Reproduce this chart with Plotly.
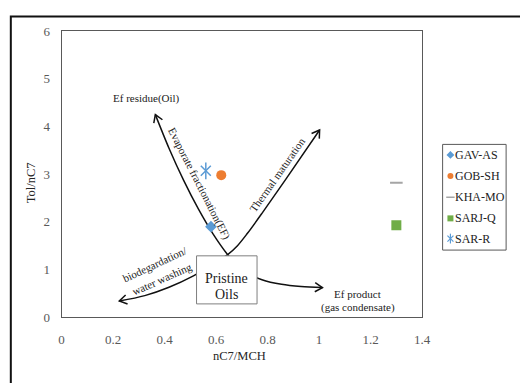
import math
import plotly.graph_objects as go

# ---- sample data -------------------------------------------------------
samples = ["GAV-AS", "GOB-SH", "KHA-MO", "SARJ-Q", "SAR-R"]
nc7_mch = [0.58, 0.62, 1.30, 1.30, 0.56]
tol_nc7 = [1.90, 2.98, 2.82, 1.93, 3.07]

# ---- hand-drawn guide curves (data units) ------------------------------
# evaporative fractionation: residue (upper left) -> product (lower right)
ef_curve_x = [0.364, 0.417, 0.474, 0.531, 0.588, 0.645, 0.683, 0.721,
              0.778, 0.854, 0.930, 1.013]
ef_curve_y = [4.248, 3.544, 2.869, 2.271, 1.750, 1.313, 1.085, 0.932,
              0.789, 0.692, 0.646, 0.624]
# biodegradation (lower left) -> thermal maturation (upper right)
thermal_x = [0.224, 0.323, 0.417, 0.512, 0.588, 0.645, 0.683, 0.721,
             0.778, 0.873, 1.002]
thermal_y = [0.342, 0.455, 0.630, 0.870, 1.109, 1.315, 1.502, 1.756,
             2.179, 2.913, 3.926]

# ---- page geometry (pixels) -------------------------------------------
W, H = 520, 383
PL, PR, PT, PB = 60, 429, 25, 323
X_MAX, Y_MAX = 1.4, 6.0
SX = (PR - PL) / X_MAX
SY = (PB - PT) / Y_MAX

SERIF = "Liberation Serif"
BLUE, ORANGE, GREY, GREEN = "#5B9BD5", "#ED7D31", "#A5A5A5", "#70AD47"
INK = "#111111"

fig = go.Figure()


def arrow_head(x_tip, y_tip, x_from, y_from, length=9, spread=32):
    """Open V arrow head at (x_tip, y_tip) pointing away from (x_from, y_from)."""
    dx = (x_tip - x_from) * SX
    dy = -(y_tip - y_from) * SY
    ang = math.atan2(dy, dx)
    xs, ys = [], []
    for s in (spread, None, -spread):
        if s is None:
            xs.append(x_tip)
            ys.append(y_tip)
            continue
        a = ang + math.pi + math.radians(s)
        xs.append(x_tip + length * math.cos(a) / SX)
        ys.append(y_tip - length * math.sin(a) / SY)
    fig.add_trace(go.Scatter(x=xs, y=ys, mode="lines", showlegend=False,
                             hoverinfo="skip", line=dict(color=INK, width=1.5)))


for cx, cy in ((ef_curve_x, ef_curve_y), (thermal_x, thermal_y)):
    fig.add_trace(go.Scatter(x=cx, y=cy, mode="lines", showlegend=False,
                             hoverinfo="skip",
                             line=dict(color=INK, width=1.5,
                                       shape="spline", smoothing=0.9)))
    arrow_head(cx[0], cy[0], cx[1], cy[1])
    arrow_head(cx[-1], cy[-1], cx[-2], cy[-2])

# ---- sample markers ----------------------------------------------------
styles = [
    dict(symbol="diamond", size=9, color=BLUE),
    dict(symbol="circle", size=10, color=ORANGE),
    dict(symbol="line-ew", size=9, color=GREY, line=dict(color=GREY, width=2)),
    dict(symbol="square", size=10, color=GREEN),
    dict(symbol="x-thin", size=10, color=BLUE, line=dict(color=BLUE, width=1.5)),
]
for name, x, y, st in zip(samples, nc7_mch, tol_nc7, styles):
    fig.add_trace(go.Scatter(x=[x], y=[y], mode="markers", name=name,
                             showlegend=False, marker=st))
    if name == "SAR-R":
        fig.add_trace(go.Scatter(x=[x], y=[y], mode="markers", showlegend=False,
                                 hoverinfo="skip",
                                 marker=dict(symbol="line-ns", size=12, color=BLUE,
                                             line=dict(color=BLUE, width=1.5))))

# ---- legend (drawn on a full-page pixel axis) --------------------------
leg_x = 458
leg_y = [154, 176, 198, 220, 241]
leg_styles = [
    dict(symbol="diamond", size=6, color=BLUE),
    dict(symbol="circle", size=6, color=ORANGE),
    dict(symbol="line-ew", size=6, color=GREY, line=dict(color=GREY, width=1.5)),
    dict(symbol="square", size=6, color=GREEN),
    dict(symbol="x-thin", size=6, color=BLUE, line=dict(color=BLUE, width=1.2)),
]
for name, yy, st in zip(samples, leg_y, leg_styles):
    fig.add_trace(go.Scatter(x=[leg_x], y=[yy], mode="markers", xaxis="x2",
                             yaxis="y2", showlegend=False, hoverinfo="skip",
                             marker=st))
    if name == "SAR-R":
        fig.add_trace(go.Scatter(x=[leg_x], y=[yy], mode="markers", xaxis="x2",
                                 yaxis="y2", showlegend=False, hoverinfo="skip",
                                 marker=dict(symbol="line-ns", size=7, color=BLUE,
                                             line=dict(color=BLUE, width=1.2))))
    fig.add_annotation(x=leg_x + 3, y=yy, xref="x2", yref="y2", text=name,
                       showarrow=False, xanchor="left", yanchor="middle",
                       font=dict(family=SERIF, size=12, color="#222222"))

# ---- shapes ------------------------------------------------------------
fig.add_shape(type="rect", xref="paper", yref="paper",
              x0=8 / W, x1=1.05, y0=-0.05, y1=1 - 10 / H,
              line=dict(color=INK, width=2), layer="below")
fig.add_shape(type="rect", xref="paper", yref="paper",
              x0=450 / W, x1=515 / W, y0=1 - 253 / H, y1=1 - 143 / H,
              line=dict(color="#595959", width=1))
fig.add_shape(type="rect", xref="x", yref="y", x0=0.524, x1=0.759,
              y0=0.282, y1=1.289, fillcolor="white",
              line=dict(color="#7f7f7f", width=1), layer="above")

# ---- text annotations --------------------------------------------------
def note(x, y, text, size=11, angle=0):
    fig.add_annotation(x=x, y=y, text=text, showarrow=False, textangle=angle,
                       xanchor="center", yanchor="middle",
                       font=dict(family=SERIF, size=size, color="#222222"))

note(0.330, 4.59, "Ef residue(Oil)", 11)
note(0.533, 2.80, "Evaporate fractionation(EF)", 11, 63)
note(0.836, 2.99, "Thermal maturation", 11, -55)
note(0.364, 1.117, "biodegardation/", 11, -25)
note(0.389, 0.795, "water washing", 11, -24)
note(0.641, 0.805, "Pristine", 14)
note(0.641, 0.483, "Oils", 14)
note(1.150, 0.483, "Ef product", 11)
note(1.150, 0.201, "(gas condensate)", 11)

# axis titles
fig.add_annotation(x=242 / W, y=1 - 363 / H, xref="paper", yref="paper",
                   text="nC7/MCH", showarrow=False,
                   xanchor="center", yanchor="middle",
                   font=dict(family=SERIF, size=12.5, color="#262626"))
fig.add_annotation(x=28 / W, y=1 - 183 / H, xref="paper", yref="paper",
                   text="Tol/nC7", showarrow=False, textangle=-90,
                   xanchor="center", yanchor="middle",
                   font=dict(family=SERIF, size=12.5, color="#262626"))

axis_common = dict(showgrid=False, zeroline=False, showline=True, mirror=True,
                   linecolor="#595959", linewidth=1, ticks="",
                   tickfont=dict(family=SERIF, size=13, color="#595959"))

fig.update_layout(
    width=W, height=H,
    margin=dict(l=0, r=0, t=0, b=0),
    paper_bgcolor="white", plot_bgcolor="rgba(0,0,0,0)",
    showlegend=False,
    xaxis=dict(domain=[PL / W, PR / W], range=[0, X_MAX], dtick=0.2,
               tickformat="~g", ticklabelstandoff=10, **axis_common),
    yaxis=dict(domain=[1 - PB / H, 1 - PT / H], range=[0, Y_MAX], dtick=1,
               ticklabelstandoff=8, **axis_common),
    xaxis2=dict(domain=[0, 1], range=[0, W], visible=False, anchor="y2"),
    yaxis2=dict(domain=[0, 1], range=[H, 0], visible=False, anchor="x2"),
)

fig.write_html("out.html")
